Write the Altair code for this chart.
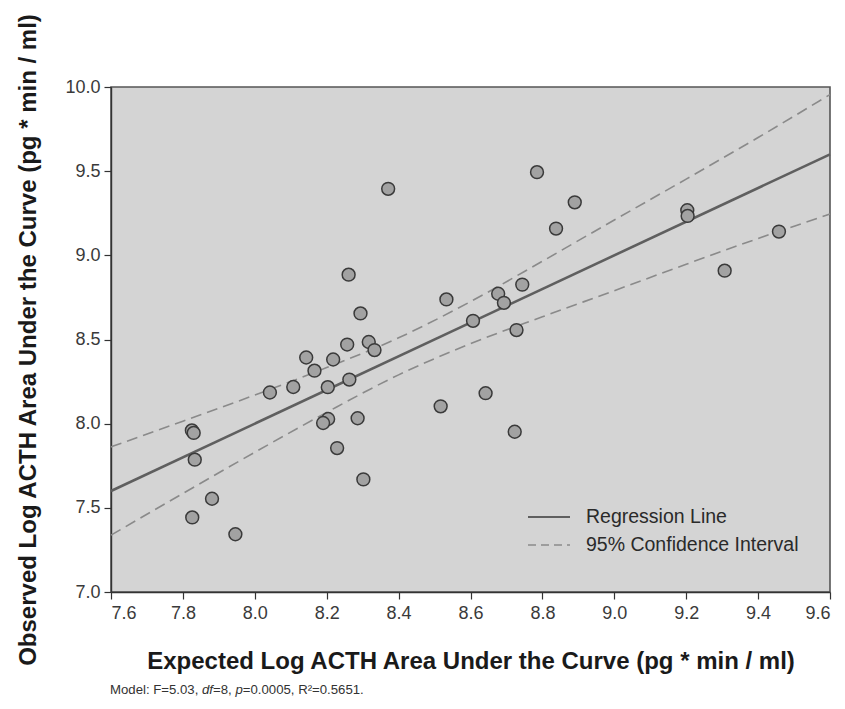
import altair as alt
import pandas as pd

# ---- data ----
obs_x = [7.825, 7.830, 7.833, 7.881, 7.826, 7.946, 8.042, 8.107, 8.143, 8.166,
         8.218, 8.257, 8.203, 8.263, 8.294, 8.317, 8.333, 8.204, 8.190, 8.286,
         8.229, 8.302, 8.517, 8.533, 8.607, 8.785, 8.890, 8.838, 9.203, 9.204,
         9.458, 9.307, 8.744, 8.677, 8.693, 8.728, 8.642, 8.723, 8.261, 8.371]
obs_y = [7.960, 7.945, 7.786, 7.554, 7.443, 7.343, 8.185, 8.218, 8.393, 8.315,
         8.381, 8.470, 8.217, 8.262, 8.655, 8.485, 8.437, 8.028, 8.004, 8.032,
         7.855, 7.669, 8.103, 8.738, 8.611, 9.494, 9.315, 9.159, 9.268, 9.234,
         9.141, 8.909, 8.826, 8.772, 8.718, 8.556, 8.181, 7.952, 8.885, 9.395]

reg_x = [7.6, 9.6]
reg_y = [7.60, 9.60]

ci_x = [7.6, 7.8, 8.0, 8.2, 8.4, 8.6, 8.8, 9.0, 9.2, 9.4, 9.6]
ci_upper = [7.862, 8.015, 8.170, 8.333, 8.510, 8.725, 8.965, 9.210, 9.453, 9.700, 9.955]
ci_lower = [7.338, 7.585, 7.830, 8.067, 8.290, 8.475, 8.635, 8.790, 8.947, 9.100, 9.245]

x_ticks = [7.6, 7.8, 8.0, 8.2, 8.4, 8.6, 8.8, 9.0, 9.2, 9.4, 9.6]
y_ticks = [7.0, 7.5, 8.0, 8.5, 9.0, 9.5, 10.0]

legend_labels = ["Regression Line", "95% Confidence Interval"]
x_title = "Expected Log ACTH Area Under the Curve (pg * min / ml)"
y_title = "Observed Log ACTH Area Under the Curve (pg * min / ml)"
# footnote pieces: (text, italic)
foot_parts = ["Model: F=5.03, ", "df", "=8, ", "p", "=0.0005, R\u00b2=0.5651."]
foot_italic = [False, True, False, True, False]
foot_offsets = [-1, 91.0, 102.0, 124.5, 131.8]

FONT = "Liberation Sans"

pts = pd.DataFrame({"x": obs_x, "y": obs_y})
reg = pd.DataFrame({"x": reg_x, "y": reg_y})
ci = pd.concat([
    pd.DataFrame({"x": ci_x, "y": ci_upper, "band": "upper"}),
    pd.DataFrame({"x": ci_x, "y": ci_lower, "band": "lower"}),
])

xs = alt.Scale(domain=[7.6, 9.6], nice=False, zero=False)
ys = alt.Scale(domain=[7.0, 10.0], nice=False, zero=False)

x_axis = alt.Axis(values=x_ticks, format=".1f", title=x_title, grid=False,
                  tickSize=7, labelPadding=5, titlePadding=27)
y_axis = alt.Axis(values=y_ticks, format=".1f", title=y_title, grid=False,
                  tickSize=7, labelPadding=4, titlePadding=24)

ci_layer = alt.Chart(ci).mark_line(color="#8a8a8a", strokeWidth=1.6,
                                   strokeDash=[11, 6], interpolate="monotone").encode(
    x=alt.X("x:Q", scale=xs, axis=x_axis),
    y=alt.Y("y:Q", scale=ys, axis=y_axis),
    detail="band:N",
)

reg_layer = alt.Chart(reg).mark_line(color="#5f5f5f", strokeWidth=2.6).encode(
    x=alt.X("x:Q", scale=xs),
    y=alt.Y("y:Q", scale=ys),
)

pt_layer = alt.Chart(pts).mark_point(filled=True, shape="circle", size=165,
                                     fill="#a2a2a2", stroke="#3a3a3a",
                                     strokeWidth=1.5, opacity=1).encode(
    x=alt.X("x:Q", scale=xs),
    y=alt.Y("y:Q", scale=ys),
)

# legend (drawn inside the plot area)
leg_solid = alt.Chart(pd.DataFrame({"a": [0]})).mark_rule(
    color="#5f5f5f", strokeWidth=2.2).encode(
    x=alt.value(417), x2=alt.value(459), y=alt.value(430))
leg_dash = alt.Chart(pd.DataFrame({"a": [0]})).mark_rule(
    color="#8a8a8a", strokeWidth=1.4, strokeDash=[8, 5]).encode(
    x=alt.value(417), x2=alt.value(459), y=alt.value(458))
leg_t1 = alt.Chart(pd.DataFrame({"t": [legend_labels[0]]})).mark_text(
    align="left", baseline="middle", font=FONT, fontSize=19.5, color="#2a2a2a").encode(
    x=alt.value(475), y=alt.value(430), text="t:N")
leg_t2 = alt.Chart(pd.DataFrame({"t": [legend_labels[1]]})).mark_text(
    align="left", baseline="middle", font=FONT, fontSize=19.5, color="#2a2a2a").encode(
    x=alt.value(475), y=alt.value(458), text="t:N")

foot_layers = []
for txt, ital, off in zip(foot_parts, foot_italic, foot_offsets):
    foot_layers.append(alt.Chart(pd.DataFrame({"t": [txt]})).mark_text(
        align="left", baseline="middle", font=FONT, fontSize=13.2, color="#333333",
        fontStyle="italic" if ital else "normal").encode(
        x=alt.value(off), y=alt.value(603), text="t:N"))

chart = alt.layer(ci_layer, reg_layer, pt_layer, leg_solid, leg_dash,
                  leg_t1, leg_t2, *foot_layers).properties(
    width=719, height=505,
    autosize=alt.AutoSizeParams(type="none"),
    padding={"left": 103, "top": 79, "right": 7, "bottom": 110},
    background="white",
).configure_view(
    fill="#d4d4d4", stroke="#555555", strokeWidth=1.6,
).configure_axis(
    labelFont=FONT, labelFontSize=18, labelColor="#3a3a3a",
    titleFont=FONT, titleFontSize=24, titleFontWeight="bold", titleColor="#1a1a1a",
    domainColor="#333333", domainWidth=1.4, tickColor="#333333", tickWidth=1.2,
)

chart.save("out.html", embed_options={"renderer": "svg", "actions": False})
